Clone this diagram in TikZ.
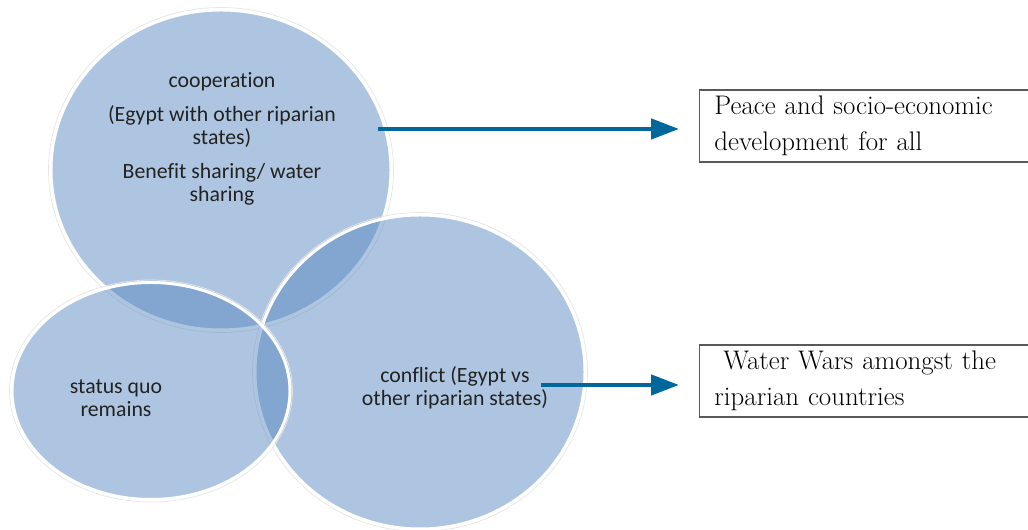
\documentclass[tikz,border=0pt]{standalone}
\usepackage{fontspec}
\usepackage{tikz}
\usepackage{xcolor}
\usetikzlibrary{arrows.meta}
\newfontfamily\bubblefont[Ligatures=NoCommon]{Carlito}
\definecolor{FontColor}{HTML}{222222}
\definecolor{BubbleBlue}{HTML}{4F81BD}
\definecolor{ArrowBlue}{HTML}{00679A}
\definecolor{BoxLine}{HTML}{595959}
\newcommand\txtcoop{cooperation\\[6.5pt](Egypt with other riparian\\states)\\[6.5pt]Benefit sharing/ water\\sharing}
\newcommand\txtstatus{status quo\\remains}
\newcommand\txtconflict{conflict (Egypt vs\\other riparian states)}
\newcommand\txtpeace{Peace and socio-economic\\development for all}
\newcommand\txtwars{\ Water Wars amongst the\\riparian countries}
\tikzstyle{bubble} = [fill=BubbleBlue, fill opacity=0.46, draw=white, line width=1.7pt]
\tikzstyle{halo} = [draw=black!10, line width=0.4pt]
\tikzstyle{bubbletext} = [align=center, text=FontColor, font=\bubblefont\fontsize{12.4}{13}\selectfont]
\tikzstyle{outcome} = [draw=BoxLine, line width=0.6pt, anchor=west, align=left, text width=6.1cm, inner xsep=8.5pt, minimum height=1.44cm, font=\fontsize{15.3}{20.5}\selectfont]
\tikzstyle{flow} = [draw=ArrowBlue, line width=2.8pt, -{Triangle[length=16pt, width=11.3pt]}, shorten >=11.3pt]

\begin{document}
\begin{tikzpicture}[x=0.02cm, y=0.02cm]
\useasboundingbox (0,0) rectangle (1028,530);
\clip (0,0) rectangle (1028,530);
% the three bubbles
\draw[halo] (221,360) ellipse [x radius=172.5, y radius=162.5];
\draw[bubble] (221,360) ellipse [x radius=170, y radius=160];
\draw[halo] (420,158) ellipse [x radius=167.5, y radius=159.5];
\draw[bubble] (420,158) ellipse [x radius=165, y radius=157];
\draw[halo] (151,139) ellipse [x radius=141.5, y radius=111];
\draw[bubble] (151,139) ellipse [x radius=139, y radius=108.5];
\node[bubbletext] (coop) at (222,391) {\txtcoop};
\node[bubbletext] (status) at (116,132) {\txtstatus};
\node[bubbletext] (conflict) at (455,142) {\txtconflict};
\node[outcome] (peace) at (699,404) {\txtpeace};
\node[outcome] (wars) at (699,149) {\txtwars};
\coordinate (coopout) at (378,401);
\coordinate (conflictout) at (541,145);
\draw[flow] (coopout) -- (coopout -| peace.west);
\draw[flow] (conflictout) -- (conflictout -| wars.west);
\end{tikzpicture}
\end{document}
